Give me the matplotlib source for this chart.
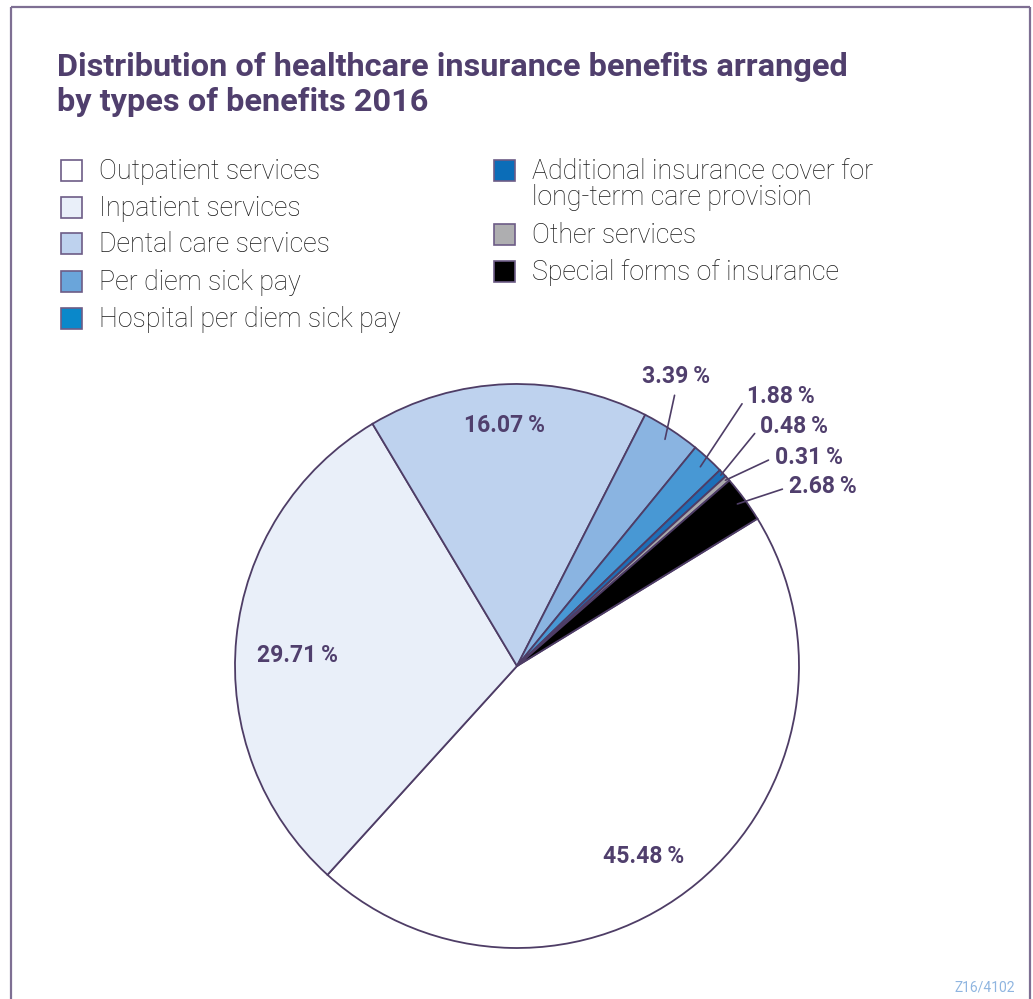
import numpy as np
import matplotlib
matplotlib.use("Agg")
import matplotlib.pyplot as plt
from matplotlib.patches import Rectangle
from matplotlib.lines import Line2D

# Benefit categories and their shares (%)
categories = [
    "Outpatient services",
    "Inpatient services",
    "Dental care services",
    "Per diem sick pay",
    "Hospital per diem sick pay",
    "Additional insurance cover for\nlong-term care provision",
    "Other services",
    "Special forms of insurance",
]
shares = [45.48, 29.71, 16.07, 3.39, 1.88, 0.48, 0.31, 2.68]
colors = ["#FFFFFF", "#E9EFF9", "#BED2EE", "#8AB4E1", "#4898D4",
          "#1C6FB8", "#A9A9AC", "#000000"]
legend_colors = ["#FFFFFF", "#E9EFF9", "#BED2EE", "#6AA5DA", "#0A88CA",
                 "#0B6DB8", "#AEAEB0", "#000000"]

TITLE = "Distribution of healthcare insurance benefits arranged\nby types of benefits 2016"
SOURCE = "Z16/4102"

PURPLE = "#503F6D"
EDGE = "#4E3D66"
FRAME = "#7E6F93"

W, H = 1033, 999
fig = plt.figure(figsize=(W / 100, H / 100), dpi=100)
fig.patch.set_facecolor("white")


def fx(px):
    return px / W


def fy(py):
    return 1 - py / H


# outer frame (open at the bottom)
for xs, ys in [((11, 11), (7, H)), ((11, 1030), (7, 7)), ((1030, 1030), (7, H))]:
    fig.add_artist(Line2D([fx(x) for x in xs], [fy(y) for y in ys],
                          color=FRAME, lw=1.6, solid_capstyle="butt"))

# title
for i, line in enumerate(TITLE.split("\n")):
    fig.text(fx(57), fy(76 + 35 * i), line, fontsize=23.4, fontweight="bold",
             color=PURPLE, family="Roboto", va="baseline", ha="left")

# legend, two columns
legend_rows = [(61, 170), (61, 207), (61, 243), (61, 281), (61, 318),
               (494, 170), (494, 234), (494, 271)]
SQ = 21
for (lx, cy), lab, col in zip(legend_rows, categories, legend_colors):
    fig.add_artist(Rectangle((fx(lx), fy(cy + SQ / 2)), SQ / W, SQ / H,
                             facecolor=col, edgecolor="#6D5C86", lw=1.2,
                             transform=fig.transFigure))
    for i, line in enumerate(lab.split("\n")):
        fig.text(fx(lx + 38), fy(cy + 9 + 26 * i), line, fontsize=19.3,
                 color="#1A1A1A", family="Roboto", fontweight="light",
                 va="baseline", ha="left")

# pie
cx, cy, R = 517, 666, 282
ax = fig.add_axes([fx(cx - R), fy(cy + R), 2 * R / W, 2 * R / H])
wedges, _ = ax.pie(shares, colors=colors, startangle=31.5, counterclock=False,
                   wedgeprops=dict(edgecolor=EDGE, linewidth=1.3))
ax.set_xlim(-1, 1)
ax.set_ylim(-1, 1)
ax.set_aspect("equal")
ax.axis("off")


def mid_angle(w):
    return np.deg2rad((w.theta1 + w.theta2) / 2)


lab_kw = dict(fontsize=16.6, fontweight="bold", color=PURPLE,
              family=["Roboto", "DejaVu Sans"])

# labels inside the large wedges: (index, radius, angle shift in degrees)
inside = [(0, 0.81, -6), (1, 0.78, 3.1), (2, 0.855, 1.2)]
for i, r, shift in inside:
    a = mid_angle(wedges[i]) + np.deg2rad(shift)
    ax.text(r * np.cos(a), r * np.sin(a), f"{shares[i]:.2f}\u2009%",
            ha="center", va="center", **lab_kw)

# leader-line labels for the small wedges: (index, anchor radius, text x, text y, ha)
outside = [
    (3, 0.96, 0.564, 1.025, "center"),
    (4, 0.96, 0.816, 0.957, "left"),
    (5, 0.99, 0.862, 0.848, "left"),
    (6, 0.99, 0.915, 0.741, "left"),
    (7, 0.97, 0.965, 0.635, "left"),
]
for i, r, tx, ty, ha in outside:
    a = mid_angle(wedges[i])
    relpos = (0.5, 0.0) if ha == "center" else (0.0, 0.5)
    ax.annotate(f"{shares[i]:.2f}\u2009%", xy=(r * np.cos(a), r * np.sin(a)),
                xytext=(tx, ty), ha=ha, va="center", annotation_clip=False,
                arrowprops=dict(arrowstyle="-", color=EDGE, lw=1.2,
                                shrinkA=3, shrinkB=0, relpos=relpos),
                **lab_kw)

fig.text(fx(1015), fy(992), SOURCE, fontsize=10, color="#8FB5E0",
         family="Roboto", ha="right", va="baseline")

fig.savefig("out.png", dpi=100, facecolor="white")
